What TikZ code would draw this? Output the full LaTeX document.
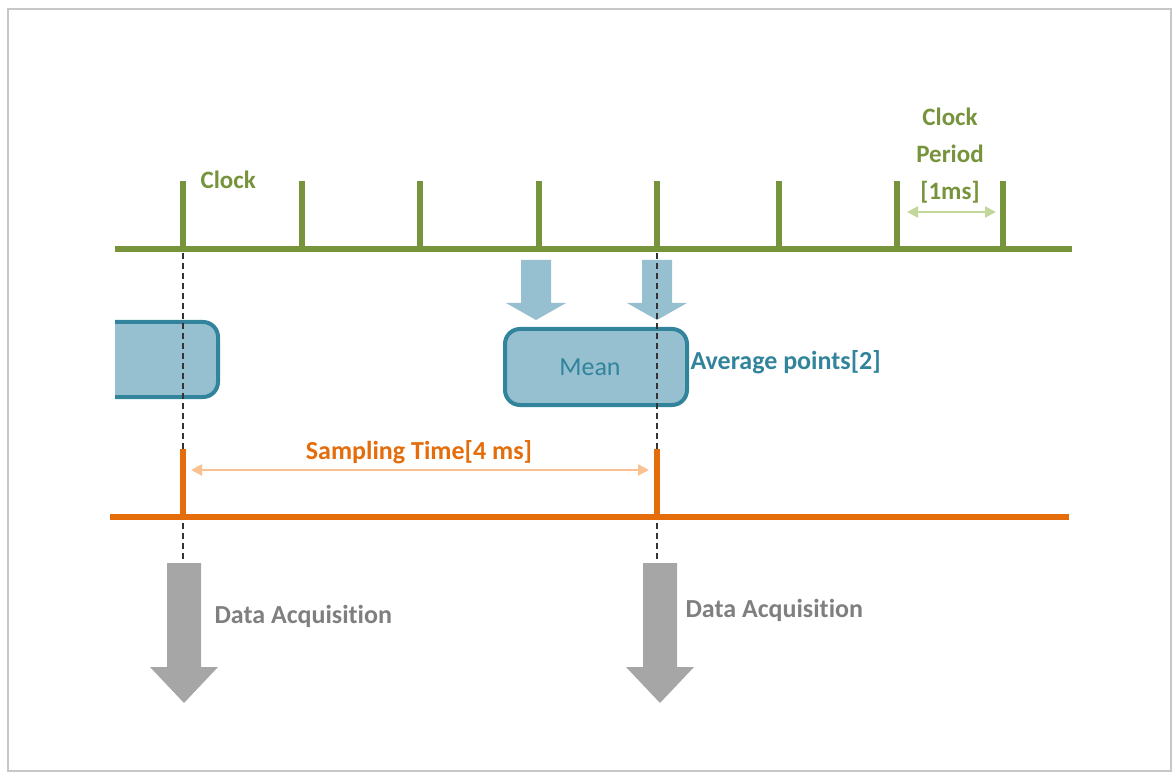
\documentclass[tikz,border=0pt]{standalone}
\usepackage{fontspec}
\setmainfont[Ligatures=NoCommon]{Carlito}
\usetikzlibrary{positioning,arrows.meta}

\definecolor{clockgreen}{RGB}{119,147,60}
\definecolor{periodgreen}{RGB}{195,214,155}
\definecolor{sampleorange}{RGB}{228,108,10}
\definecolor{lightorange}{RGB}{250,192,144}
\definecolor{meanfill}{RGB}{150,192,207}
\definecolor{meanline}{RGB}{49,132,155}
\definecolor{acqgray}{RGB}{166,166,166}
\definecolor{acqtext}{RGB}{127,127,127}

\begin{document}
\begin{tikzpicture}[
            x=1pt, y=-1pt,
            clockline/.style={
                draw=clockgreen,
                line width=5.5
            },
            sampleline/.style={
                draw=sampleorange,
                line width=5.5
            },
            clocktext/.style={
                text=clockgreen,
                font=\fontsize{25}{37}\selectfont\bfseries
            },
            sampletext/.style={
                text=sampleorange,
                font=\fontsize{26}{30}\selectfont\bfseries
            },
            meanbox/.style={
                rectangle,
                rounded corners=15,
                fill=meanfill,
                draw=meanline,
                line width=4,
                text=meanline,
                font=\fontsize{26}{30}\selectfont
            },
            acqtextstyle/.style={
                text=acqtext,
                font=\fontsize{26}{30}\selectfont\bfseries
            },
            guide/.style={
                draw=black!80,
                line width=2,
                dash pattern=on 6 off 4
            },
            dimarrow/.style={
                line width=2,
                {Triangle[length=11,width=11]}-{Triangle[length=11,width=11]}
            },
            meanarrow/.pic={
                \fill[meanfill] (-15,0) -- (15,0) -- (15,43) -- (30,43)
                    -- (0,60) -- (-30,43) -- (-15,43) -- cycle;
            },
            acqarrow/.pic={
                \fill[acqgray] (-17,0) -- (17,0) -- (17,104) -- (34,104)
                    -- (0,140) -- (-34,104) -- (-17,104) -- cycle;
            }
        ]
            \useasboundingbox (0,0) rectangle (1175,775);
            \draw[black!22, line width=2] (8,9) rectangle (1171,771);

            % Clock
            \draw[clockline] (115,249) -- (1072,249);
            \foreach \x [count=\i] in {183,302,420,539,657,779,897,1003} {
                \coordinate (c\i) at (\x,249);
                \draw[clockline] (\x,249) -- (\x,181);
            }
            \node[clocktext, anchor=west] (clocklbl) at (197,180) {Clock};
            \node[clocktext, align=center] (period) at (950,156) {Clock\\Period\\{}[1ms]};
            \coordinate (periodl) at (907,212);
            \coordinate (periodr) at (996,212);
            \draw[dimarrow, periodgreen] (periodl) -- (periodr);

            % Mean
            \pic at (536,260) {meanarrow};
            \pic at (657,260) {meanarrow};
            \begin{scope}
                \clip (115,300) rectangle (300,420);
                \node[meanbox, minimum width=180, minimum height=75] (prevmean) at (128,359.5) {};
            \end{scope}
            \node[meanbox, minimum width=182, minimum height=76] (mean) at (596,367) {\hspace*{-12pt}Mean};
            \node[anchor=west, text=meanline, font=\fontsize{26}{30}\selectfont\bfseries] (avg) at (687,362) {Average points[2]};

            % Guides
            \coordinate (acq1) at (184,563);
            \coordinate (acq2) at (660,563);
            \draw[guide] (c1) ++(0,4) -- (acq1 -| c1);
            \draw[guide] (c5) ++(0,4) -- (acq2 -| c5);

            % Sampling
            \draw[sampleline] (110,517) -- (1069,517);
            \coordinate (s1) at (183,517);
            \coordinate (s2) at (657,517);
            \draw[sampleline] (s1) -- (183,449);
            \draw[sampleline] (s2) -- (657,449);
            \coordinate (samplel) at (191,470);
            \coordinate (sampler) at (649,470);
            \draw[dimarrow, lightorange] (samplel) -- (sampler);
            \node[sampletext] (samplelbl) at (419,452) {Sampling Time[4 ms]};

            % Data acquisition
            \pic at (acq1) {acqarrow};
            \pic at (acq2) {acqarrow};
            \node[acqtextstyle, anchor=west] (acq1lbl) at (211,616) {Data Acquisition};
            \node[acqtextstyle, anchor=west] (acq2lbl) at (682,610) {Data Acquisition};
        \end{tikzpicture}
\end{document}
